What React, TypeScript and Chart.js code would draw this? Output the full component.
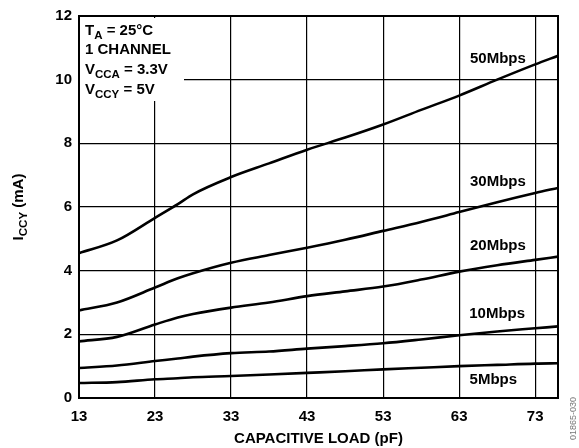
import { useEffect, useRef } from "react";
import { Chart, registerables } from "chart.js";

Chart.register(...registerables);

const LOAD_PF = [13, 18, 23, 26, 28, 33, 38, 43, 48, 53, 58, 63, 68, 73, 76];
const ICC_50M = [4.55, 4.95, 5.66, 6.09, 6.4, 6.94, 7.37, 7.8, 8.18, 8.59, 9.05, 9.5, 10.0, 10.48, 10.75];
const ICC_30M = [2.75, 3.0, 3.47, 3.76, 3.92, 4.25, 4.49, 4.72, 4.97, 5.25, 5.53, 5.84, 6.15, 6.44, 6.6];
const ICC_20M = [1.78, 1.92, 2.31, 2.53, 2.64, 2.84, 3.0, 3.2, 3.35, 3.5, 3.72, 3.97, 4.17, 4.34, 4.44];
const ICC_10M = [0.94, 1.02, 1.16, 1.24, 1.3, 1.41, 1.46, 1.55, 1.63, 1.72, 1.84, 1.97, 2.09, 2.19, 2.25];
const ICC_5M = [0.47, 0.5, 0.59, 0.62, 0.65, 0.69, 0.74, 0.79, 0.84, 0.9, 0.95, 1.0, 1.04, 1.08, 1.09];

const SERIES = [ICC_50M, ICC_30M, ICC_20M, ICC_10M, ICC_5M];
const SERIES_LABELS = ["50Mbps", "30Mbps", "20Mbps", "10Mbps", "5Mbps"];
const LABEL_AT_X = [68.1, 68.1, 68.1, 68.0, 67.5];
const LABEL_AT_Y = [10.66, 6.78, 4.78, 2.63, 0.56];

const X_TICKS = [13, 23, 33, 43, 53, 63, 73];
const Y_TICKS = [0, 2, 4, 6, 8, 10, 12];

const FAMILY = "'Liberation Sans', Arial, sans-serif";
const FS = 15;
const SUB = 11.5;

type Part = [string, boolean];

function richWidth(ctx: CanvasRenderingContext2D, parts: Part[]) {
  let w = 0;
  for (const [t, sub] of parts) {
    ctx.font = `bold ${sub ? SUB : FS}px ${FAMILY}`;
    w += ctx.measureText(t).width;
  }
  return w;
}

function drawRich(ctx: CanvasRenderingContext2D, x: number, y: number, parts: Part[]) {
  let cx = x;
  ctx.textAlign = "left";
  ctx.textBaseline = "alphabetic";
  for (const [t, sub] of parts) {
    ctx.font = `bold ${sub ? SUB : FS}px ${FAMILY}`;
    ctx.fillText(t, cx, sub ? y + 4 : y);
    cx += ctx.measureText(t).width;
  }
}

const overlay = {
  id: "overlay",
  afterDraw(chart: any) {
    const { ctx, chartArea: a, scales } = chart;
    ctx.save();
    ctx.strokeStyle = "#000";
    ctx.lineWidth = 2;
    ctx.strokeRect(a.left, a.top, a.right - a.left, a.bottom - a.top);

    // condition box
    ctx.fillStyle = "#fff";
    ctx.fillRect(a.left + 1, a.top + 2, 104, 83);
    ctx.fillStyle = "#000";
    const lx = a.left + 6;
    drawRich(ctx, lx, a.top + 19, [["T", false], ["A", true], [" = 25°C", false]]);
    drawRich(ctx, lx, a.top + 38, [["1 CHANNEL", false]]);
    drawRich(ctx, lx, a.top + 58, [["V", false], ["CCA", true], [" = 3.3V", false]]);
    drawRich(ctx, lx, a.top + 78, [["V", false], ["CCY", true], [" = 5V", false]]);

    // series labels
    ctx.font = `bold ${FS}px ${FAMILY}`;
    ctx.textAlign = "center";
    ctx.textBaseline = "middle";
    SERIES_LABELS.forEach((lab, i) => {
      const px = scales.x.getPixelForValue(LABEL_AT_X[i]);
      const py = scales.y.getPixelForValue(LABEL_AT_Y[i]);
      ctx.fillText(lab, px, py);
    });

    // x title
    ctx.font = `bold ${FS}px ${FAMILY}`;
    ctx.textAlign = "center";
    ctx.textBaseline = "alphabetic";
    ctx.fillText("CAPACITIVE LOAD (pF)", (a.left + a.right) / 2, 443);

    // y title
    const yParts: Part[] = [["I", false], ["CCY", true], [" (mA)", false]];
    const w = richWidth(ctx, yParts);
    ctx.save();
    ctx.translate(23, (a.top + a.bottom) / 2);
    ctx.rotate(-Math.PI / 2);
    drawRich(ctx, -w / 2, 0, yParts);
    ctx.restore();

    // document id
    ctx.save();
    ctx.translate(576, 397);
    ctx.rotate(-Math.PI / 2);
    ctx.font = `9px ${FAMILY}`;
    ctx.fillStyle = "#777";
    ctx.textAlign = "right";
    ctx.textBaseline = "alphabetic";
    ctx.fillText("01865-030", 0, 0);
    ctx.restore();

    ctx.restore();
  },
};

export default function App() {
  const ref = useRef<HTMLCanvasElement | null>(null);
  useEffect(() => {
    if (!ref.current) return;
    const tickFont = { family: FAMILY, size: FS, weight: "bold" as const };
    const chart = new Chart(ref.current, {
      type: "line",
      data: {
        datasets: SERIES.map((arr, i) => ({
          label: SERIES_LABELS[i],
          data: LOAD_PF.map((x, j) => ({ x, y: arr[j] })),
          borderColor: "#000",
          borderWidth: 2.6,
          pointRadius: 0,
          fill: false,
          tension: 0.4,
          cubicInterpolationMode: "monotone" as const,
        })),
      },
      options: {
        animation: false,
        responsive: false,
        layout: { padding: { top: 14, right: 21, bottom: 0, left: 0 } },
        plugins: { legend: { display: false }, tooltip: { enabled: false } },
        scales: {
          x: {
            type: "linear",
            min: 13,
            max: 76,
            afterBuildTicks: (s: any) => {
              s.ticks = X_TICKS.map((v) => ({ value: v }));
            },
            afterFit: (s: any) => {
              s.height = 50;
            },
            grid: { color: "#000", lineWidth: 1.2, drawTicks: false },
            border: { display: false },
            ticks: { padding: 10, color: "#000", font: tickFont, maxRotation: 0, autoSkip: false },
          },
          y: {
            type: "linear",
            min: 0,
            max: 12,
            afterBuildTicks: (s: any) => {
              s.ticks = Y_TICKS.map((v) => ({ value: v }));
            },
            afterFit: (s: any) => {
              s.width = 79;
            },
            grid: { color: "#000", lineWidth: 1.2, drawTicks: false },
            border: { display: false },
            ticks: { padding: 7, color: "#000", font: tickFont },
          },
        },
      },
      plugins: [overlay],
    });
    return () => chart.destroy();
  }, []);
  return (
    <div style={{ position: "absolute", left: 0, top: 0, width: 579, height: 448, background: "#fff" }}>
      <canvas ref={ref} width={579} height={448} />
    </div>
  );
}
